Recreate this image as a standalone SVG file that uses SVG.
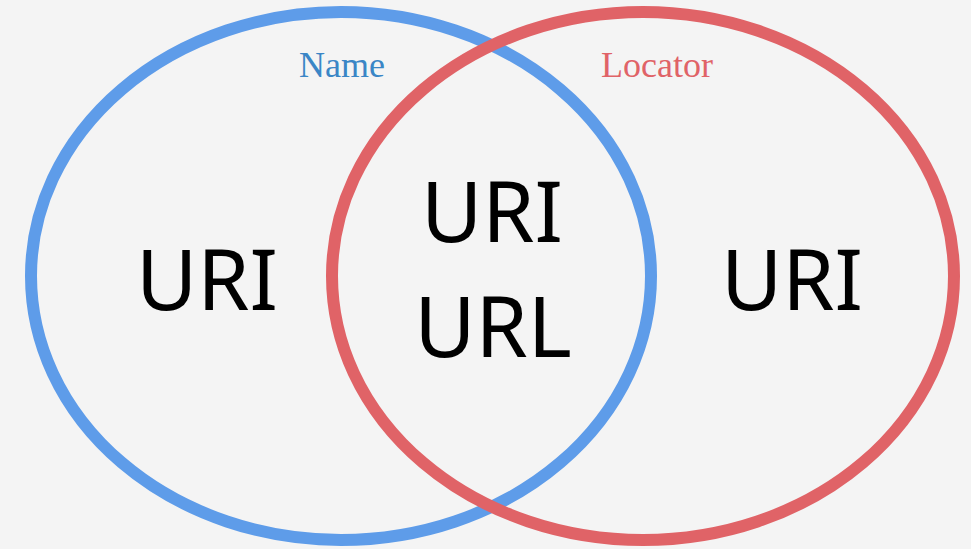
<svg xmlns="http://www.w3.org/2000/svg" width="971" height="549" viewBox="0 0 971 549">
<style>
.ring{fill:none;stroke-width:12}
.big{font-family:"Noto Sans","Open Sans",sans-serif;font-size:84px;fill:#000;text-anchor:middle}
.lbl{font-family:"Liberation Serif","DejaVu Serif",serif;font-size:36px;text-anchor:middle}
</style>
<rect width="971" height="549" fill="#f4f4f4"/>
<g id="connectors">
<ellipse id="name-set" class="ring" cx="341" cy="276" rx="310" ry="264" stroke="#5e9ce9"/>
<ellipse id="locator-set" class="ring" cx="643" cy="276" rx="311" ry="264" stroke="#e06367"/>
</g>
<g id="name-label"><text class="lbl" x="342" y="77" fill="#3a86c6">Name</text></g>
<g id="locator-label"><text class="lbl" x="657" y="77" fill="#e06367">Locator</text></g>
<g id="left-uri"><text class="big" x="207" y="310">URI</text></g>
<g id="middle"><text class="big" x="492" y="242">URI</text><text class="big" x="493" y="357">URL</text></g>
<g id="right-uri"><text class="big" x="792" y="310">URI</text></g>
</svg>
